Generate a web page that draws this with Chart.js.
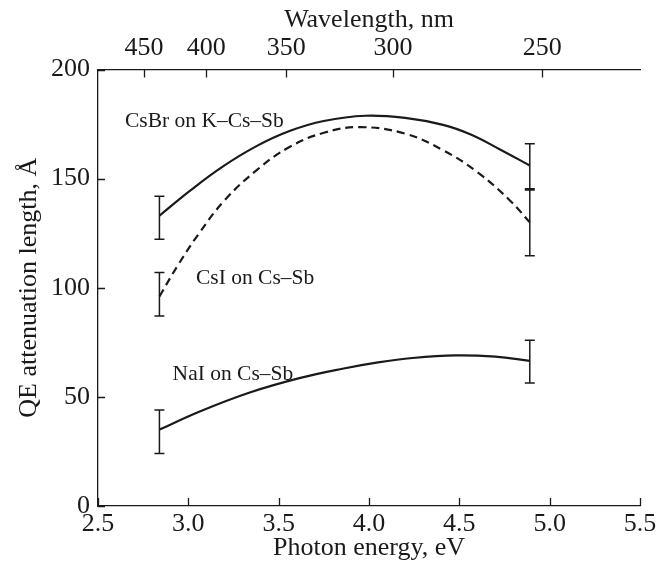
<!DOCTYPE html>
<html>
<head>
<meta charset="utf-8">
<script src="https://cdn.jsdelivr.net/npm/chart.js@4"></script>
<style>
  body { margin: 0; background: #fff; }
</style>
</head>
<body>
<canvas id="chart" width="666" height="566"></canvas>
<script>
// photon energy (eV) and attenuation length (Å) along each curve
var csbrEnergy = [2.84, 3.01, 3.19, 3.38, 3.56, 3.75, 3.98, 4.2, 4.41, 4.56, 4.72, 4.89];
var csbrLength = [133, 144.5, 155.5, 165, 171.8, 176.4, 178.8, 177.8, 174.6, 170.3, 163.6, 156];
var csiEnergy = [2.84, 2.94, 3.06, 3.2, 3.38, 3.56, 3.75, 3.95, 4.2, 4.41, 4.6, 4.78, 4.89];
var csiLength = [96, 110, 125, 140, 154, 164.5, 171, 173.6, 170.6, 163, 153, 140, 130];
var naiEnergy = [2.84, 3.06, 3.34, 3.62, 3.86, 4.05, 4.24, 4.48, 4.7, 4.89];
var naiLength = [35, 43.2, 52, 58.7, 63, 65.8, 67.8, 69, 68.4, 66.5];

// error bars at both ends of every curve
var barEnergy = [2.84, 4.89];
var csbrLow = [122.2, 145.4], csbrHigh = [141.9, 166];
var csiLow = [87, 114.7], csiHigh = [107, 144.8];
var naiLow = [24, 56.4], naiHigh = [44, 76];

// top axis
var wavelengthTicks = [450, 400, 350, 300, 250];

var seriesNames = ['CsBr on K\u2013Cs\u2013Sb', 'CsI on Cs\u2013Sb', 'NaI on Cs\u2013Sb'];
var nameAt = [[2.649, 173.6], [3.042, 101.9], [2.913, 57.7]];

var serif = '"Liberation Serif", "DejaVu Serif", serif';
var ink = '#1a1a1a';

function points(xs, ys) {
    var out = [];
    for (var i = 0; i < xs.length; i++) out.push({x: xs[i], y: ys[i]});
    return out;
}

// inward tick marks, error bars and curve names
var extras = {
    id: 'extras',
    afterDatasetsDraw: function (chart) {
        var ctx = chart.ctx;
        var x = chart.scales.x, y = chart.scales.y, top = chart.scales.xTop;
        var area = chart.chartArea;
        ctx.save();
        ctx.strokeStyle = ink;
        ctx.lineWidth = 1.3;
        ctx.beginPath();
        x.ticks.forEach(function (t) {
            var px = Math.round(x.getPixelForValue(t.value)) + 0.5;
            ctx.moveTo(px, area.bottom);
            ctx.lineTo(px, area.bottom - 8);
        });
        top.ticks.forEach(function (t) {
            var px = Math.round(top.getPixelForValue(t.value)) + 0.5;
            ctx.moveTo(px, area.top);
            ctx.lineTo(px, area.top + 8);
        });
        y.ticks.forEach(function (t) {
            var py = Math.round(y.getPixelForValue(t.value)) + 0.5;
            ctx.moveTo(area.left, py);
            ctx.lineTo(area.left + 7, py);
        });
        ctx.stroke();

        var bars = [[csbrLow, csbrHigh], [csiLow, csiHigh], [naiLow, naiHigh]];
        ctx.lineWidth = 1.5;
        ctx.beginPath();
        bars.forEach(function (b) {
            for (var i = 0; i < barEnergy.length; i++) {
                var px = x.getPixelForValue(barEnergy[i]);
                var y0 = y.getPixelForValue(b[0][i]);
                var y1 = y.getPixelForValue(b[1][i]);
                ctx.moveTo(px, y0); ctx.lineTo(px, y1);
                ctx.moveTo(px - 5, y0); ctx.lineTo(px + 5, y0);
                ctx.moveTo(px - 5, y1); ctx.lineTo(px + 5, y1);
            }
        });
        ctx.stroke();

        ctx.fillStyle = ink;
        ctx.font = '21.5px ' + serif;
        ctx.textAlign = 'left';
        ctx.textBaseline = 'alphabetic';
        seriesNames.forEach(function (s, i) {
            ctx.fillText(s, x.getPixelForValue(nameAt[i][0]), y.getPixelForValue(nameAt[i][1]));
        });
        ctx.restore();
    }
};

var tickFont = {family: serif, size: 26};
var titleFont = {family: serif, size: 26};

new Chart(document.getElementById('chart'), {
    type: 'scatter',
    data: {
        datasets: [{
            data: points(csbrEnergy, csbrLength),
            borderColor: ink,
            borderWidth: 2.2
        }, {
            data: points(csiEnergy, csiLength),
            borderColor: ink,
            borderWidth: 2.2,
            borderDash: [8, 5]
        }, {
            data: points(naiEnergy, naiLength),
            borderColor: ink,
            borderWidth: 2.2
        }]
    },
    options: {
        responsive: false,
        animation: false,
        showLine: true,
        elements: {
            point: {radius: 0},
            line: {tension: 0.4}
        },
        layout: {padding: {left: 0, right: 26, top: 0, bottom: 0}},
        plugins: {legend: {display: false}, tooltip: {enabled: false}},
        scales: {
            x: {
                type: 'linear',
                position: 'bottom',
                min: 2.5,
                max: 5.5,
                grid: {display: false, drawTicks: false},
                border: {display: true, color: ink, width: 1.3},
                ticks: {
                    stepSize: 0.5,
                    padding: 3,
                    color: ink,
                    font: tickFont,
                    maxRotation: 0,
                    callback: function (v) { return v.toFixed(1); }
                },
                title: {display: true, text: 'Photon energy, eV', color: ink, font: titleFont, padding: {top: 0, bottom: 2}},
                afterFit: function (s) { s.height = 60; }
            },
            xTop: {
                type: 'linear',
                position: 'top',
                min: 2.5,
                max: 5.5,
                grid: {display: false, drawTicks: false},
                border: {display: true, color: ink, width: 1.3},
                afterBuildTicks: function (s) {
                    s.ticks = wavelengthTicks.map(function (w) { return {value: 1239.84 / w}; });
                },
                ticks: {
                    padding: 6,
                    color: ink,
                    font: tickFont,
                    maxRotation: 0,
                    callback: function (v, i) { return String(wavelengthTicks[i]); }
                },
                title: {display: true, text: 'Wavelength, nm', color: ink, font: titleFont, padding: {top: 5, bottom: 0}},
                afterFit: function (s) { s.height = 69.5; }
            },
            y: {
                type: 'linear',
                min: 0,
                max: 200,
                grid: {display: false, drawTicks: false},
                border: {display: true, color: ink, width: 1.3},
                ticks: {stepSize: 50, padding: 8, color: ink, font: tickFont},
                title: {display: true, text: 'QE attenuation length, \u00c5', color: ink, font: titleFont, padding: {top: 14, bottom: 0}},
                afterFit: function (s) { s.width = 98; }
            }
        }
    },
    plugins: [extras]
});
</script>
</body>
</html>
